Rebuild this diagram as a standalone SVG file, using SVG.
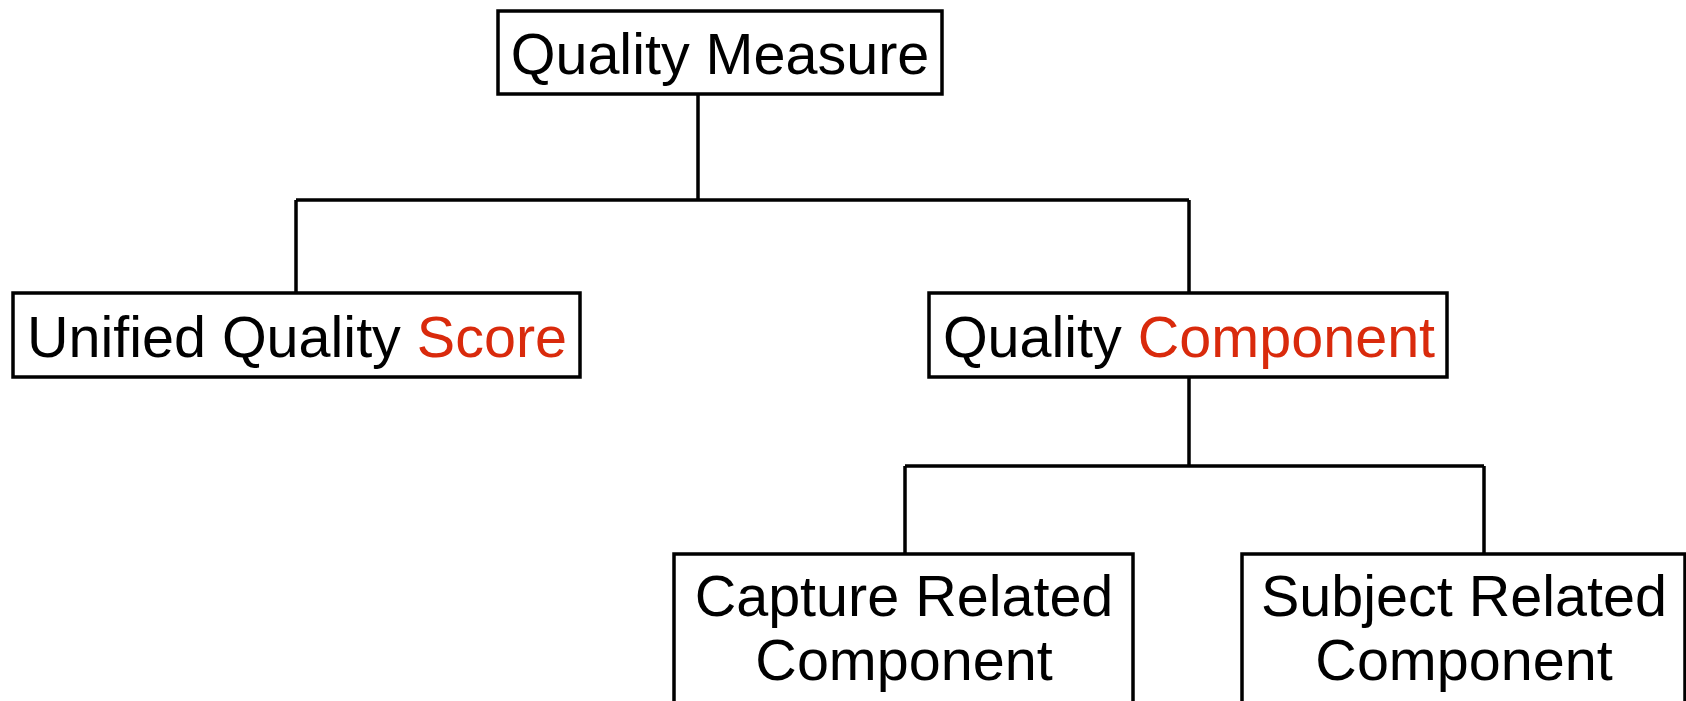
<svg xmlns="http://www.w3.org/2000/svg" width="1686" height="701" viewBox="0 0 1686 701">
<style>
.box{fill:#fff;stroke:#000;stroke-width:3.5}
.ln{fill:none;stroke:#000;stroke-width:3.5}
.t{font-family:"Liberation Sans",Arial,sans-serif;font-size:57.5px;fill:#000;text-anchor:middle}
.r{fill:#d92a0c}
</style>
<rect width="1686" height="701" fill="#fff"/>
<g id="connectors">
<path class="ln" d="M698 94V200M296 200H1189M296 200V293M1189 200V293"/>
<path class="ln" d="M1189 377V466M905 466H1484M905 466V555M1484 466V555"/>
</g>
<g id="n1"><rect class="box" x="498" y="11" width="444" height="83"/><text class="t" x="720" y="74">Quality Measure</text></g>
<g id="n2"><rect class="box" x="13" y="293" width="567" height="84"/><text class="t" x="297" y="357">Unified Quality <tspan class="r">Score</tspan></text></g>
<g id="n3"><rect class="box" x="929" y="293" width="518" height="84"/><text class="t" x="1189" y="357">Quality <tspan class="r">Component</tspan></text></g>
<g id="n4"><rect class="box" x="674" y="554" width="459" height="160"/><text class="t" x="904" y="616">Capture Related</text><text class="t" x="904" y="680">Component</text></g>
<g id="n5"><rect class="box" x="1242" y="554" width="443" height="160"/><text class="t" x="1464" y="616">Subject Related</text><text class="t" x="1464" y="680">Component</text></g>
</svg>
